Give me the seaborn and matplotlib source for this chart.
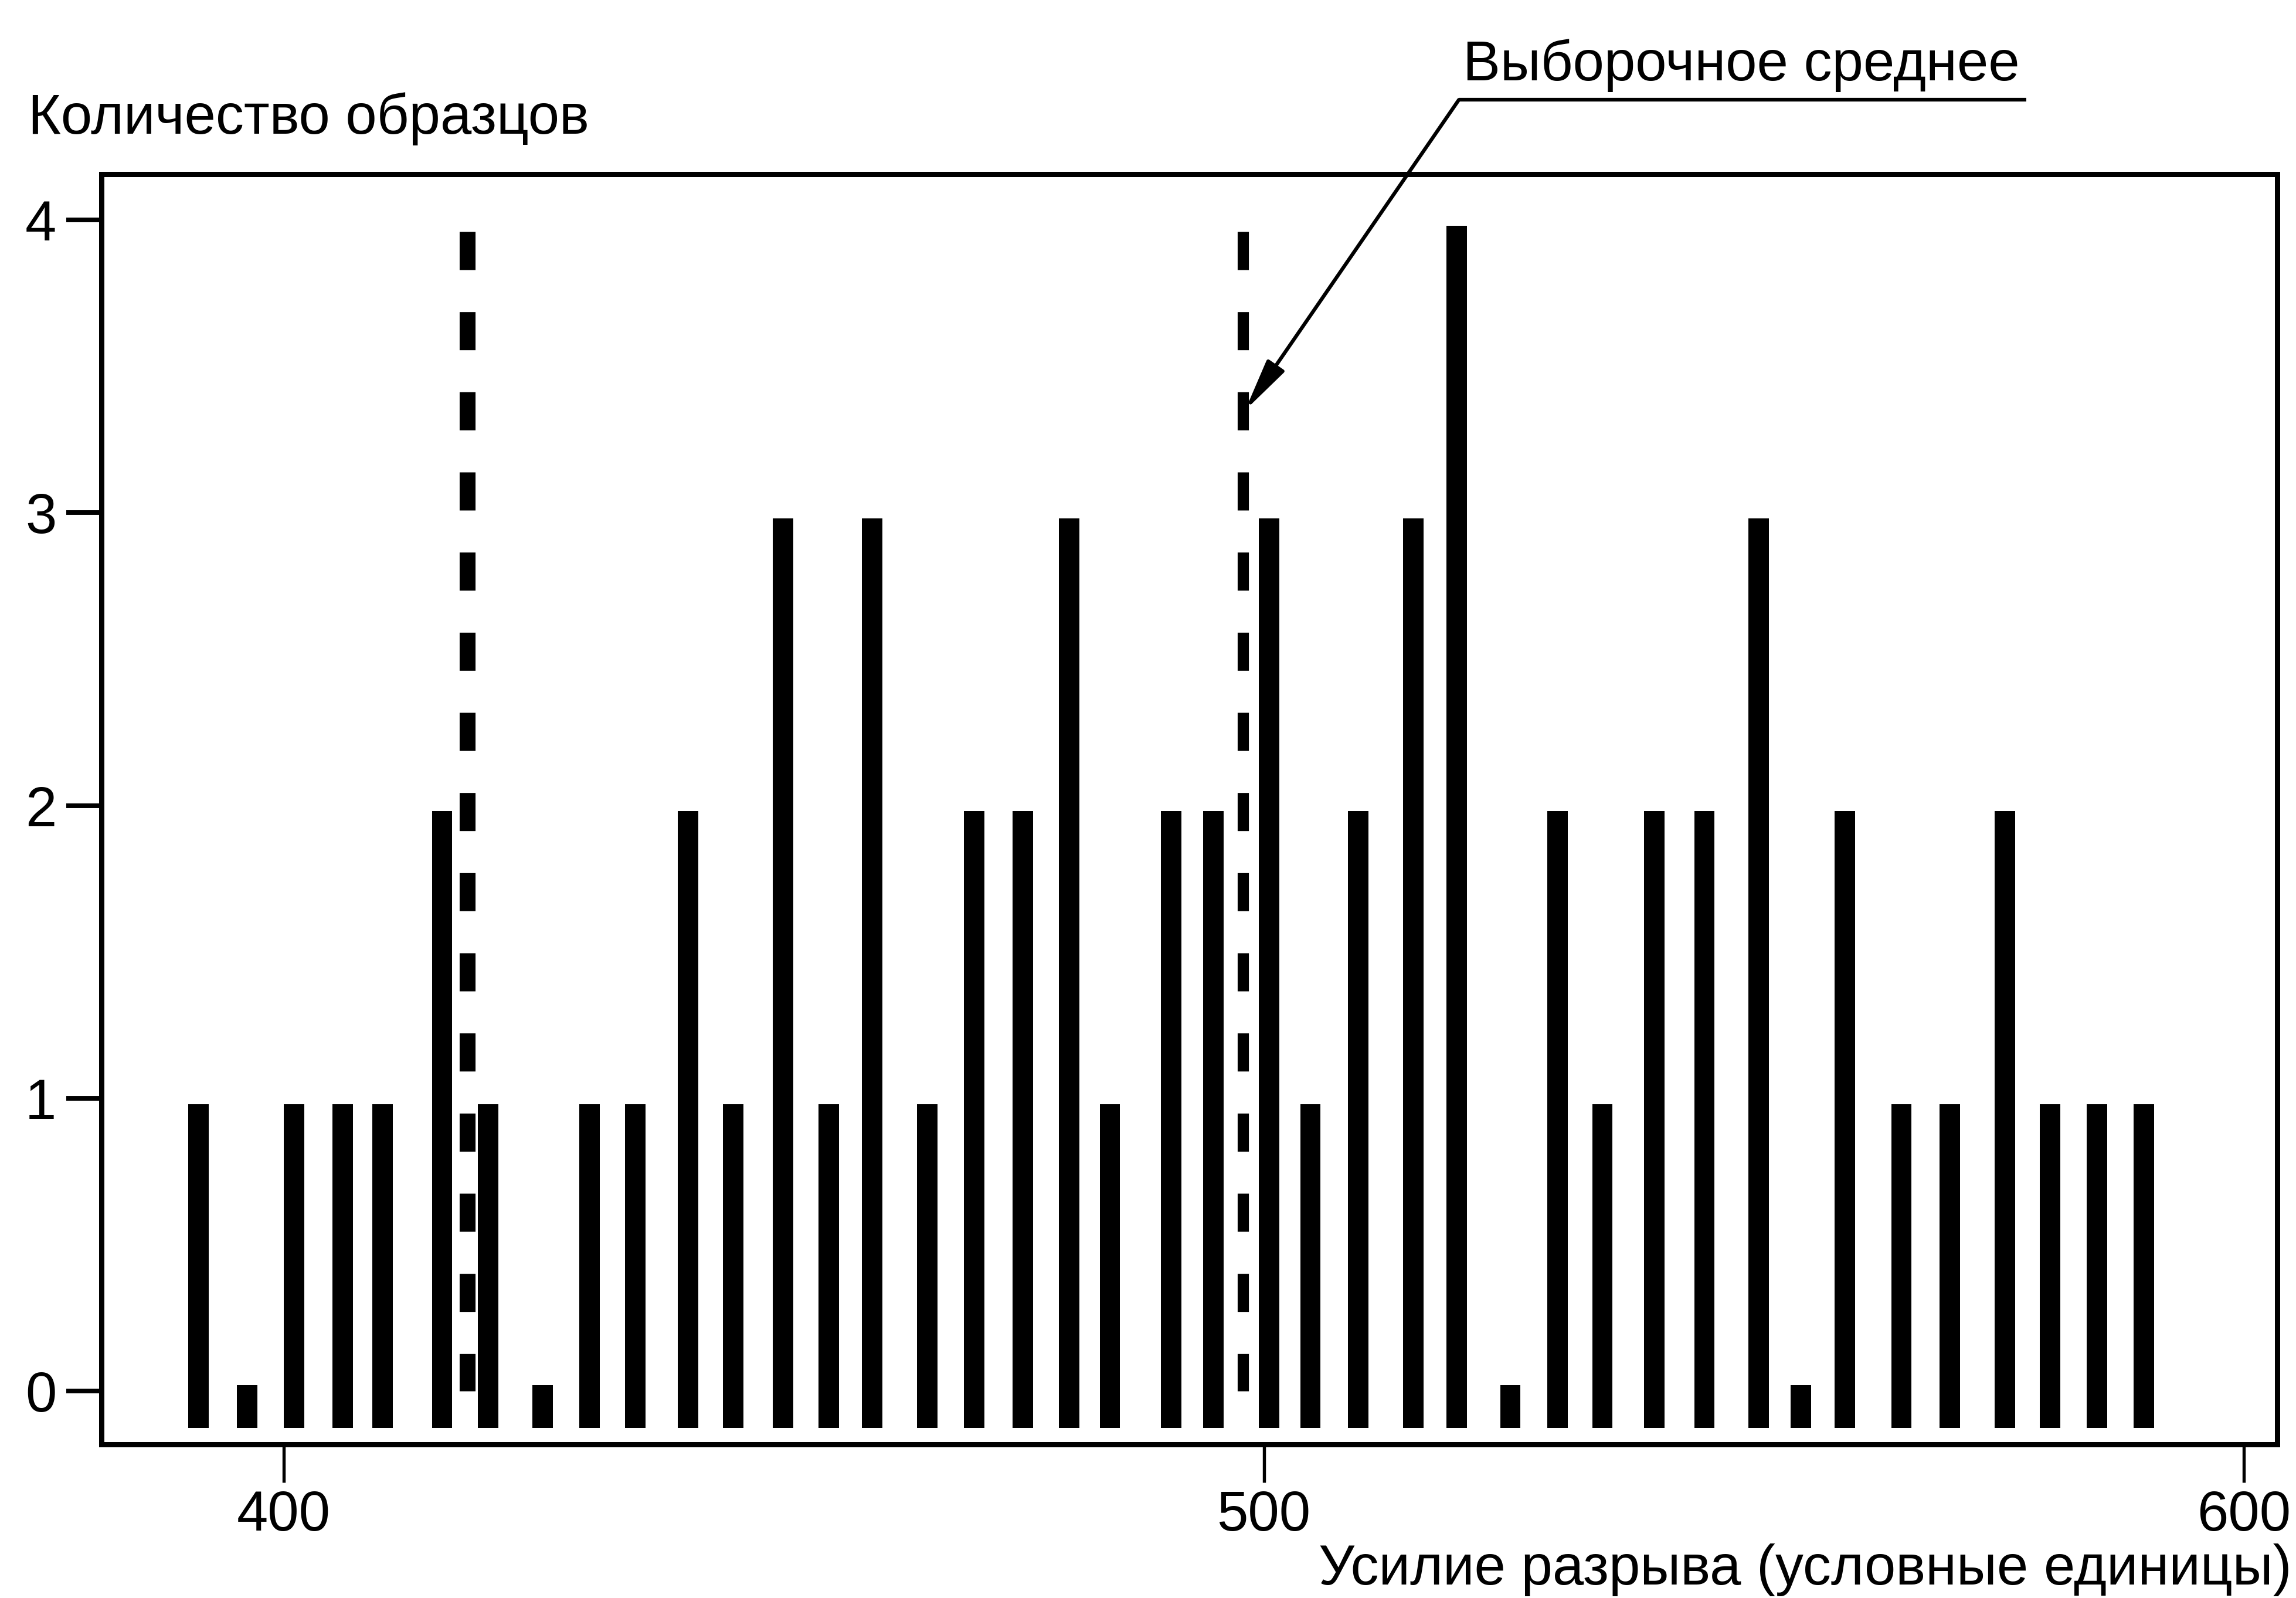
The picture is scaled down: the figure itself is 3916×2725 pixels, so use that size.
import numpy as np
import pandas as pd
import matplotlib
matplotlib.use("Agg")
import matplotlib.pyplot as plt
import seaborn as sns

# ──────────────────────────────
#  Data
# ──────────────────────────────
force = [391.3, 396.25, 401.05, 406.0, 410.1, 416.15, 420.85, 426.4, 431.2, 435.85,
         441.25, 445.85, 450.95, 455.6, 460.05, 465.65, 470.45, 475.4, 480.15, 484.3,
         490.55, 494.85, 500.55, 504.75, 509.65, 515.25, 519.7, 525.15, 529.95, 534.55,
         539.85, 544.95, 550.5, 554.8, 559.3, 565.05, 570.0, 575.6, 580.2, 585.0, 589.8]
counts = [1, 0, 1, 1, 1, 2, 1, 0, 1, 1,
          2, 1, 3, 1, 3, 1, 2, 2, 3, 1,
          2, 2, 3, 1, 2, 3, 4, 0, 2, 1,
          2, 2, 3, 0, 2, 1, 1, 2, 1, 1, 1]
dashed_x = [418.7, 497.9]          # vertical dashed markers, the right one = sample mean
x_ticks = [400, 500, 600]
y_ticks = [0, 1, 2, 3, 4]

y_label = "Количество образцов"
x_label = "Усилие разрыва (условные единицы)"
note = "Выборочное среднее"

# ──────────────────────────────
#  Style
# ──────────────────────────────
sns.set_style("white")
plt.rcParams["font.family"] = ["Liberation Sans", "DejaVu Sans"]
plt.rcParams["lines.scale_dashes"] = False
plt.rcParams["text.color"] = "black"
plt.rcParams["axes.labelcolor"] = "black"
plt.rcParams["xtick.color"] = "black"
plt.rcParams["ytick.color"] = "black"
FS = 23

W, H, DPI = 3916, 2725, 300
fig = plt.figure(figsize=(W / DPI, H / DPI), dpi=DPI)
ax = fig.add_axes([0.04418, 0.09615, 0.99183 - 0.04418, 0.89101 - 0.09615])

# bars start a bit under zero, zero-count bins get a small stub
BAR_BOTTOM = -0.125
BAR_W = 2.08
cnt = np.array(counts, dtype=float)
top = np.where(cnt == 0, 0.02, cnt - 0.02)
df = pd.DataFrame({"force": force, "height": top - BAR_BOTTOM})

sns.barplot(data=df, x="force", y="height", native_scale=True, orient="x",
            width=BAR_W / np.diff(np.sort(force)).min(),
            color="black", saturation=1, errorbar=None, linewidth=0,
            bottom=BAR_BOTTOM, ax=ax)

# dashed verticals
for xm, lw in zip(dashed_x, (6.5, 4.6)):
    ax.plot([xm, xm], [3.96, 0], color="black", lw=lw,
            dashes=(15.6, 17.2), dash_capstyle="butt")

# annotation with leader line
ax.annotate("", xy=(498.1, 3.35), xytext=(519.9, 4.41),
            xycoords="data", textcoords="data", annotation_clip=False,
            arrowprops=dict(arrowstyle="-|>,head_length=0.5,head_width=0.1",
                            lw=1.5, color="black", shrinkA=0, shrinkB=0,
                            mutation_scale=36))
ax.plot([519.9, 577.8], [4.41, 4.41], color="black", lw=1.5, clip_on=False,
        solid_capstyle="butt")
ax.text(520.3, 4.477, note, ha="left", va="baseline", fontsize=FS,
        color="black", clip_on=False)

# axes
ax.set_xlim(381.4, 603.4)
ax.set_ylim(-0.182, 4.156)
ax.set_xticks(x_ticks)
ax.set_xticklabels([str(v) for v in x_ticks])
ax.set_yticks(y_ticks)
ax.set_yticklabels([str(v) for v in y_ticks])
ax.set_xlabel("")
ax.set_ylabel("")
ax.tick_params(axis="x", direction="out", length=15.6, width=1.3, pad=3,
               labelsize=FS, colors="black", bottom=True)
ax.tick_params(axis="y", direction="out", length=14.4, width=1.9, pad=4,
               labelsize=FS, colors="black", left=True)
for sp in ax.spines.values():
    sp.set_visible(True)
    sp.set_color("black")
    sp.set_linewidth(2.16)

fig.text(0.01218, 0.91633, y_label, ha="left", va="baseline", fontsize=FS,
         color="black")
fig.text(0.99821, 0.0085, x_label, ha="right", va="baseline", fontsize=FS,
         color="black")

fig.savefig("out.png", dpi=DPI, facecolor="white")
